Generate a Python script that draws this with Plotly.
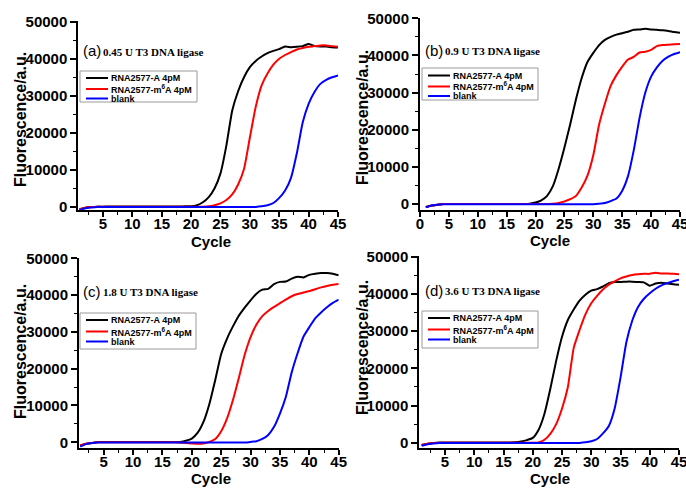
import plotly.graph_objects as go

W, H = 686, 491

cycles = list(range(1, 46))

# ---- panel (a) 0.45 U ----
a_A = [-700, -300, -100, 0, 0, 50, 50, 50, 50, 50, 50, 50, 50, 50, 50, 50, 50, 50, 100, 100,
       400, 1200, 2600, 5000, 9000, 16500, 26000, 31200, 35000, 37700, 39400, 40600, 41500, 42100, 42600,
       43300, 43100, 43200, 43400, 44000, 43400, 43300, 43300, 43100, 43000]
a_M = [-700, -300, -100, 0, 0, 0, 0, 0, 0, 0, 0, 0, 0, 0, 0, 0, 0, 0, 0, 0,
       0, 0, 100, 400, 900, 1800, 3300, 6000, 10200, 18700, 27000, 32800, 36000, 38400, 40000,
       41000, 41800, 42500, 42900, 43200, 43400, 43600, 43600, 43400, 43200]
a_B = [-900, -400, -200, -50, -50, -50, -50, -50, -50, -50, -50, -50, -50, -50, -50, -50, -50, -50, -50, -50,
       -50, -50, -50, -50, -50, -50, -50, -50, -50, -50, -50, 100, 400, 1000, 2400,
       4400, 7800, 14500, 22800, 27800, 31000, 33200, 34300, 35000, 35500]

# ---- panel (b) 0.9 U ----
b_A = [-800, -400, -200, 0, 0, 0, 0, 0, 0, 0, 0, 0, 0, 0, 0, 0, 0, 0, 100, 400,
       1000, 2200, 4800, 9500, 15200, 21500, 28200, 34000, 38300, 40700, 42800, 44200, 45000, 45600, 46000,
       46400, 46900, 47000, 47200, 47000, 46900, 46800, 46600, 46300, 46100]
b_M = [-800, -400, -200, 0, 0, 0, 0, 0, 0, 0, 0, 0, 0, 0, 0, 0, 0, 0, 0, 0,
       0, 0, 100, 300, 700, 1300, 2200, 4500, 7700, 13200, 21400, 27000, 31800, 34700, 37000,
       38900, 39600, 40800, 41000, 41500, 42500, 42800, 42900, 43000, 43100]
b_B = [-900, -400, -200, -50, -50, -50, -50, -50, -50, -50, -50, -50, -50, -50, -50, -50, -50, -50, -50, -50,
       -50, -50, -50, -50, -50, -50, -50, -50, -50, -50, 100, 300, 800, 1500, 3600,
       7500, 14500, 23200, 30000, 34300, 36800, 38600, 39700, 40400, 40900]

# ---- panel (c) 1.8 U ----
c_A = [-900, -400, -200, 50, 50, 50, 50, 50, 50, 50, 50, 50, 50, 50, 50, 50, 50, 100, 400, 1000,
       2600, 5600, 10500, 17000, 24000, 28200, 31500, 34400, 36600, 38600, 40400, 41500, 41700, 43000, 43600,
       43700, 44500, 45000, 44800, 45500, 45800, 46000, 46000, 45800, 45400]
c_M = [-800, -400, -200, 0, 0, 0, 0, 0, 0, 0, 0, 0, 0, 0, 0, 0, 0, -100, -200, -300,
       -400, -300, 100, 900, 3000, 6500, 11500, 17500, 23800, 28600, 32000, 34300, 35700, 36800, 37800,
       38800, 39700, 40300, 40700, 41100, 41600, 42100, 42500, 42800, 43000]
c_B = [-1200, -500, -200, -50, -50, -50, -50, -50, -50, -50, -50, -50, -50, -50, -50, -50, -50, -50, -50, -50,
       -50, -50, -50, -50, -50, -50, -50, -50, -50, 100, 300, 900, 2000, 4200, 7800,
       12300, 19000, 24200, 28700, 31300, 33700, 35300, 36700, 37900, 38800]

# ---- panel (d) 3.6 U ----
d_A = [-600, -300, -100, 50, 50, 50, 50, 50, 50, 50, 50, 50, 50, 50, 50, 50, 100, 300, 700, 1300,
       3500, 7800, 14500, 22000, 28500, 33000, 35800, 38200, 39800, 40900, 41300, 42000, 42900, 43200, 43200,
       43300, 43300, 43200, 43100, 42200, 42800, 43000, 42800, 42600, 42500]
d_M = [-600, -300, -100, 0, 0, 0, 0, 0, 0, 0, 0, 0, 0, 0, 0, 0, 0, 0, 0, 0,
       100, 800, 2400, 5000, 9200, 15000, 25500, 30300, 34500, 37500, 39500, 41200, 42500, 43400, 44200,
       44700, 45100, 45300, 45400, 45400, 45700, 45500, 45500, 45400, 45300]
d_B = [-800, -400, -200, -50, -50, -50, -50, -50, -50, -50, -50, -50, -50, -50, -50, -50, -50, -50, -50, -50,
       -50, -50, -50, -50, -50, -50, -50, -50, 100, 400, 1000, 2500, 4500, 9200, 17500,
       27000, 32800, 36500, 38700, 40200, 41400, 42300, 42900, 43400, 43800]

series_names = ["RNA2577-A 4pM", "RNA2577-m<sup>6</sup>A 4pM", "blank"]
series_colors = ["#000000", "#ff0000", "#0000ff"]
panel_labels = ["(a)", "(b)", "(c)", "(d)"]
panel_titles = ["0.45 U T3 DNA ligase", "0.9 U T3 DNA ligase", "1.8 U T3 DNA ligase", "3.6 U T3 DNA ligase"]
y_ticks = [0, 10000, 20000, 30000, 40000, 50000]
x_title = "Cycle"
y_title = "Fluorescence/a.u."

data = [(a_A, a_M, a_B), (b_A, b_M, b_B), (c_A, c_M, c_B), (d_A, d_M, d_B)]

# layout geometry (pixels)
panels = [
    dict(xd=(78.3, 338.0), yd=(20.96, 210.4), xr=[0.8, 45], yr=[-1000, 50200],
         ytx=20, yty=120, xtx=211, xty=241, lab=(81, 51), box=(80, 197, 71, 102), rows=(78, 89, 98.5)),
    dict(xd=(420.0, 680.0), yd=(17.56, 209.6), xr=[0, 45], yr=[-1500, 50200],
         ytx=362, yty=118, xtx=550, xty=240, lab=(423, 50), box=(422, 538, 68, 100), rows=(75.5, 86.5, 96)),
    dict(xd=(79.0, 338.7), yd=(257.6, 447.8), xr=[0.8, 45], yr=[-1500, 50200],
         ytx=20, yty=352, xtx=211, xty=478, lab=(81, 291), box=(80, 196, 313, 349), rows=(320, 331.5, 341.5)),
    dict(xd=(419.3, 679.0), yd=(256.0, 448.3), xr=[0.6, 45], yr=[-1500, 50200],
         ytx=362, yty=348, xtx=550, xty=478, lab=(423, 290), box=(422, 538, 311, 348), rows=(318, 329.5, 339.5)),
]

def px(x):
    return x / W

def py(y):
    return 1 - y / H

fig = go.Figure()
tickfont = dict(family="Arial, Liberation Sans", size=15, color="black", weight="bold")
annotations = []
shapes = []

for i, (p, ser) in enumerate(zip(panels, data)):
    k = "" if i == 0 else str(i + 1)
    for s, name, col in zip(ser, series_names, series_colors):
        fig.add_trace(go.Scatter(x=cycles, y=s, mode="lines", name=name, showlegend=False,
                                 line=dict(color=col, width=2, shape="spline", smoothing=0.5),
                                 xaxis="x" + k, yaxis="y" + k))
    fig.update_layout(**{
        "xaxis" + k: dict(domain=[px(p["xd"][0]), px(p["xd"][1])], range=p["xr"], anchor="y" + k,
                          automargin=False, ticklabeloverflow="allow",
                          showline=True, linewidth=2, linecolor="black", showgrid=False, zeroline=False,
                          ticks="outside", ticklen=5, tickwidth=1.5, tickcolor="black",
                          tick0=0, dtick=5, tickfont=tickfont, ticklabelstandoff=-6,
                          minor=dict(ticks="outside", ticklen=3, tickwidth=1.2, tickcolor="black", dtick=2.5, tick0=0, showgrid=False)),
        "yaxis" + k: dict(domain=[py(p["yd"][1]), py(p["yd"][0])], range=p["yr"], anchor="x" + k,
                          automargin=False, ticklabeloverflow="allow",
                          showline=True, linewidth=2, linecolor="black", showgrid=False, zeroline=False,
                          ticks="outside", ticklen=6, tickwidth=1.5, tickcolor="black",
                          tickvals=y_ticks, tickformat="d", tickfont=tickfont,
                          minor=dict(ticks="outside", ticklen=3, tickwidth=1.2, tickcolor="black", dtick=5000, tick0=0, showgrid=False)),
    })
    annotations.append(dict(text=y_title, x=px(p["ytx"]), y=py(p["yty"]), xref="paper", yref="paper",
                            textangle=-90, showarrow=False, xanchor="center", yanchor="middle",
                            font=dict(family="Arial, Liberation Sans", size=16, color="black", weight="bold")))
    annotations.append(dict(text=x_title, x=px(p["xtx"]), y=py(p["xty"]), xref="paper", yref="paper",
                            showarrow=False, xanchor="center", yanchor="middle",
                            font=dict(family="Arial, Liberation Sans", size=15, color="black", weight="bold")))
    annotations.append(dict(text=panel_labels[i], x=px(p["lab"][0]), y=py(p["lab"][1]), xref="paper", yref="paper",
                            showarrow=False, xanchor="left", yanchor="middle",
                            font=dict(family="Arial, Liberation Sans", size=15, color="black")))
    annotations.append(dict(text=panel_titles[i], x=px(p["lab"][0] + 20), y=py(p["lab"][1] + 1), xref="paper", yref="paper",
                            showarrow=False, xanchor="left", yanchor="middle",
                            font=dict(family="Liberation Serif, Times New Roman", size=11, color="black", weight="bold")))
    # legend box
    bx0, bx1, by0, by1 = p["box"]
    shapes.append(dict(type="rect", xref="paper", yref="paper", x0=px(bx0), x1=px(bx1), y0=py(by1), y1=py(by0),
                       line=dict(color="#9a9a9a", width=1), fillcolor="white", layer="above"))
    for r, name, col in zip(p["rows"], series_names, series_colors):
        shapes.append(dict(type="line", xref="paper", yref="paper", x0=px(bx0 + 6), x1=px(bx0 + 28),
                           y0=py(r), y1=py(r), line=dict(color=col, width=2), layer="above"))
        annotations.append(dict(text=name, x=px(bx0 + 29), y=py(r), xref="paper", yref="paper",
                                showarrow=False, xanchor="left", yanchor="middle",
                                font=dict(family="Arial, Liberation Sans", size=9, color="black", weight="bold")))

fig.update_layout(template="none", width=W, height=H, margin=dict(l=0, r=0, t=0, b=0, pad=0),
                  paper_bgcolor="white", plot_bgcolor="white",
                  annotations=annotations, shapes=shapes, showlegend=False)

fig.write_html("out.html", config={"displayModeBar": False},
               post_script="document.body.style.margin='0px';document.body.style.overflow='hidden';")
